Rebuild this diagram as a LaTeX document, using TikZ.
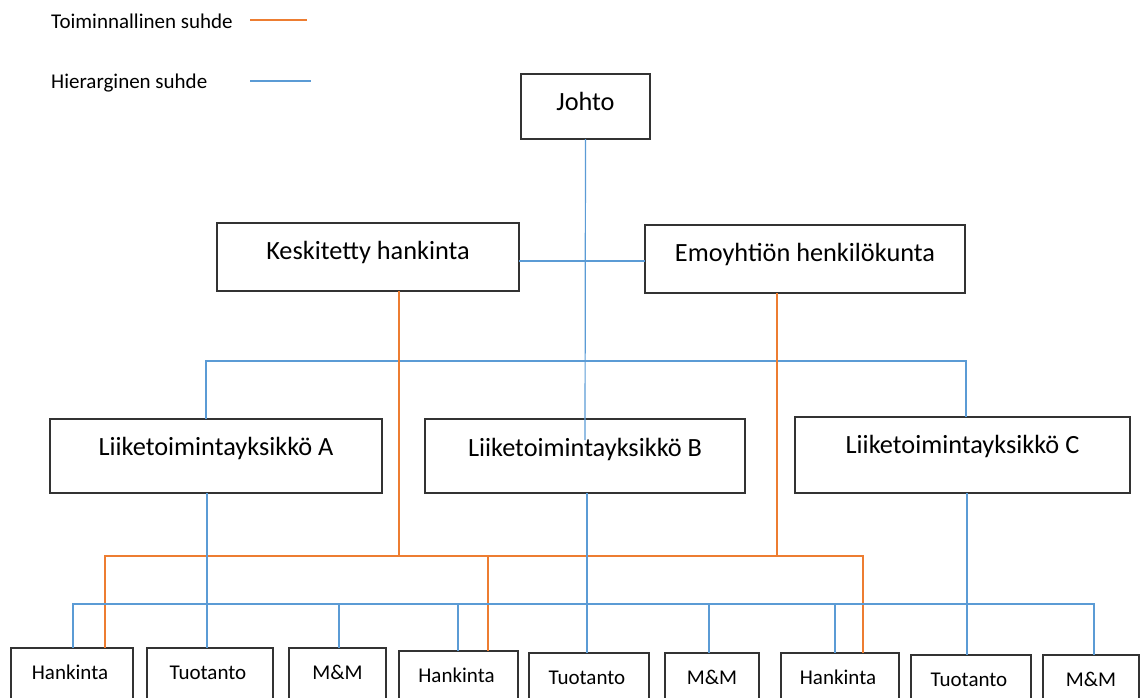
\documentclass[tikz,border=0pt]{standalone}
\usepackage{fontspec}
\setmainfont{Carlito}
\definecolor{funcor}{HTML}{ED7D31}
\definecolor{hierbl}{HTML}{5B9BD5}
\begin{document}
\begin{tikzpicture}[x=1pt,y=-1pt,
  box/.style={draw=black!80, line width=1.2pt, inner sep=0pt, outer sep=0pt, rectangle},
  big/.style={anchor=base, inner sep=0pt, font=\fontsize{26.3}{30}\selectfont},
  small/.style={anchor=base, inner sep=0pt, font=\fontsize{21}{25}\selectfont},
  legtext/.style={anchor=base west, inner sep=0pt, font=\fontsize{21}{25}\selectfont},
  func/.style={draw=funcor, line width=1.2pt},
  hier/.style={draw=hierbl, line width=1.2pt}]
\useasboundingbox (0,0) rectangle (1141,697);
\clip (0,0) rectangle (1141,697);
% legend
\node[legtext] (lg1) at (51,28) {Toiminnallinen suhde};
\node[legtext] (lg2) at (51,88) {Hierarginen suhde};
\coordinate (lgf1) at (250,20); \coordinate (lgf2) at (307,20);
\coordinate (lgh1) at (250,81); \coordinate (lgh2) at (311,81);
\draw[func] (lgf1) -- (lgf2);
\draw[hier] (lgh1) -- (lgh2);
% top boxes
\node[box, minimum width=129pt, minimum height=65pt] (johto) at (585.5,106.5) {};
\node[big] (johto-t) at (585.5,110) {Johto};
\node[box, minimum width=302pt, minimum height=68pt] (kh) at (368,257) {};
\node[big] (kh-t) at (368,259) {Keskitetty hankinta};
\node[box, minimum width=320pt, minimum height=68pt] (eh) at (805,259) {};
\node[big] (eh-t) at (805,261) {Emoyhtiön henkilökunta};
% business units
\node[box, minimum width=332pt, minimum height=74pt] (la) at (216,456) {};
\node[big] (la-t) at (216,455) {Liiketoimintayksikkö A};
\node[box, minimum width=320pt, minimum height=74pt] (lb) at (585,456) {};
\node[big] (lb-t) at (585,456) {Liiketoimintayksikkö B};
\node[box, minimum width=335pt, minimum height=76pt] (lc) at (962.5,455) {};
\node[big] (lc-t) at (962.5,453) {Liiketoimintayksikkö C};
% bottom boxes
\node[box, minimum width=122pt, minimum height=72pt] (h1) at (72,684) {};
\node[small] (h1-t) at (70,679) {Hankinta};
\node[box, minimum width=126pt, minimum height=72pt] (t1) at (210,684) {};
\node[small] (t1-t) at (208,679) {Tuotanto};
\node[box, minimum width=97pt, minimum height=72pt] (m1) at (337.5,684) {};
\node[small] (m1-t) at (337.5,679) {M\&M};
\node[box, minimum width=119pt, minimum height=69pt] (h2) at (458.5,685.5) {};
\node[small] (h2-t) at (456.5,682) {Hankinta};
\node[box, minimum width=120pt, minimum height=67pt] (t2) at (589,686.5) {};
\node[small] (t2-t) at (587,684) {Tuotanto};
\node[box, minimum width=94pt, minimum height=67pt] (m2) at (712,686.5) {};
\node[small] (m2-t) at (712,684) {M\&M};
\node[box, minimum width=118pt, minimum height=67pt] (h3) at (840,686.5) {};
\node[small] (h3-t) at (838,684) {Hankinta};
\node[box, minimum width=120pt, minimum height=65pt] (t3) at (971,687.5) {};
\node[small] (t3-t) at (969,686) {Tuotanto};
\node[box, minimum width=96pt, minimum height=65pt] (m3) at (1091,687.5) {};
\node[small] (m3-t) at (1091,686) {M\&M};
% hierarchical lines (top)
\draw[hier] (johto.south) -- ([yshift=-21pt]lb.north);
\draw[hier] ([yshift=-4pt]kh.east) -- ([yshift=-4pt]kh.east -| eh.west);
\coordinate (ub1) at (206,361);
\coordinate (ub2) at (966,361);
\draw[hier] (ub1 |- la.north) -- (ub1) -- (ub2) -- (ub2 |- lc.north);
% functional lines
\coordinate (ob1) at (105,556);
\coordinate (ob2) at (863,556);
\coordinate (ob3) at (488,556);
\draw[func] ([xshift=31pt]kh.south) -- ([xshift=31pt]kh.south |- ob1);
\draw[func] ([xshift=-28pt]eh.south) -- ([xshift=-28pt]eh.south |- ob1);
\draw[func] (ob1 |- h1.north) -- (ob1) -- (ob2) -- (ob2 |- h3.north);
\draw[func] (ob3) -- (ob3 |- h2.north);
% hierarchical lines (bottom)
\draw[hier] ([xshift=-9pt]la.south) -- ([xshift=-9pt]la.south |- t1.north);
\draw[hier] ([xshift=2pt]lb.south) -- ([xshift=2pt]lb.south |- t2.north);
\draw[hier] ([xshift=4.5pt]lc.south) -- ([xshift=4.5pt]lc.south |- t3.north);
\coordinate (lb1) at (73,604);
\coordinate (lb2) at (1094,604);
\coordinate (d1) at (339,604);
\coordinate (d2) at (458,604);
\coordinate (d3) at (709,604);
\coordinate (d4) at (835,604);
\draw[hier] (lb1 |- h1.north) -- (lb1) -- (lb2) -- (lb2 |- m3.north);
\draw[hier] (d1) -- (d1 |- m1.north);
\draw[hier] (d2) -- (d2 |- h2.north);
\draw[hier] (d3) -- (d3 |- m2.north);
\draw[hier] (d4) -- (d4 |- h3.north);
\end{tikzpicture}
\end{document}
